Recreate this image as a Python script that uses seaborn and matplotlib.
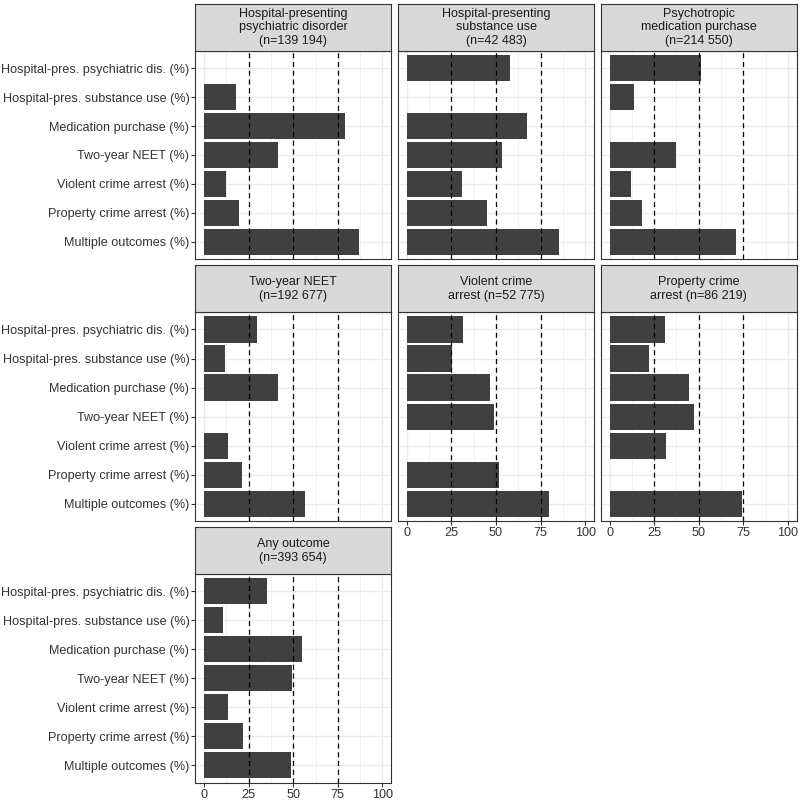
import numpy as np
import pandas as pd
import matplotlib
matplotlib.use("Agg")
import matplotlib.pyplot as plt
import seaborn as sns

outcomes = [
    "Hospital-pres. psychiatric dis. (%)",
    "Hospital-pres. substance use (%)",
    "Medication purchase (%)",
    "Two-year NEET (%)",
    "Violent crime arrest (%)",
    "Property crime arrest (%)",
    "Multiple outcomes (%)",
]

panels = [
    "Hospital-presenting\npsychiatric disorder\n(n=139 194)",
    "Hospital-presenting\nsubstance use\n(n=42 483)",
    "Psychotropic\nmedication purchase\n(n=214 550)",
    "Two-year NEET\n(n=192 677)",
    "Violent crime\narrest (n=52 775)",
    "Property crime\narrest (n=86 219)",
    "Any outcome\n(n=393 654)",
]

psychiatric = [np.nan, 17.8, 79.0, 41.2, 12.0, 19.3, 87.1]
substance = [57.8, np.nan, 67.3, 53.1, 30.9, 44.8, 85.6]
medication = [51.4, 13.5, np.nan, 37.3, 11.8, 18.2, 71.0]
neet = [29.7, 11.6, 41.6, np.nan, 13.3, 21.2, 56.7]
violent = [31.6, 25.2, 46.7, 48.8, np.nan, 51.8, 79.5]
prop = [31.0, 22.2, 44.6, 47.3, 31.8, np.nan, 74.4]
anyout = [35.3, 10.6, 54.7, 49.1, 13.4, 21.8, 48.9]

series = [psychiatric, substance, medication, neet, violent, prop, anyout]
ref_lines = [25, 50, 75]
x_ticks = [0, 25, 50, 75, 100]

rows = []
for p, vals in zip(panels, series):
    for o, v in zip(outcomes, vals):
        rows.append({"panel": p, "outcome": o, "value": v})
df = pd.DataFrame(rows)

sns.set_theme(style="white")
plt.rcParams["font.family"] = ["Liberation Sans", "DejaVu Sans"]

W = H = 800
fig = plt.figure(figsize=(8, 8), dpi=100)

col_left = [195.3, 398.0, 600.7]
col_w = 196.0
panel_rows = [(50.7, 259.3), (312.0, 521.3), (574.0, 782.7)]
strip_h = 46.7

txt_col = "#333333"
border_col = "#333333"
grid_col = "#ebebeb"
fs = 9.1
strip_fs = 9.0

for i, p in enumerate(panels):
    r, c = divmod(i, 3)
    top, bot = panel_rows[r]
    left = col_left[c]
    ax = fig.add_axes([left / W, 1 - bot / H, col_w / W, (bot - top) / H])
    sub = df[df["panel"] == p].dropna()
    sns.barplot(data=sub, x="value", y="outcome", order=outcomes, orient="h",
                color="#404040", saturation=1, width=0.9, ax=ax, errorbar=None,
                zorder=3)
    for patch in ax.patches:
        patch.set_edgecolor("none")
    ax.set_xlim(-5, 105)
    ax.set_ylim(len(outcomes) - 1 + 0.6, -0.6)
    for m in np.arange(12.5, 100, 25):
        ax.axvline(m, color=grid_col, lw=0.5, zorder=0)
    for m in x_ticks:
        ax.axvline(m, color=grid_col, lw=1.0, zorder=0)
    for k in range(len(outcomes)):
        ax.axhline(k, color=grid_col, lw=1.0, zorder=0)
    for v in ref_lines:
        ax.axvline(v, color="black", lw=0.9, ls=(0, (4, 3)), zorder=4)
    ax.set_xlabel("")
    ax.set_ylabel("")
    ax.set_xticks(x_ticks)
    for s in ax.spines.values():
        s.set_edgecolor(border_col)
        s.set_linewidth(0.8)
        s.set_zorder(5)
    show_x = (r == 2) or (r == 1 and c > 0)
    show_y = c == 0
    ax.tick_params(axis="both", which="major", length=3, width=0.8,
                   color=border_col, labelcolor=txt_col, labelsize=fs, pad=1.2,
                   bottom=show_x, left=show_y, labelbottom=show_x, labelleft=show_y)
    if not show_x:
        ax.set_xticklabels([])
    sax = fig.add_axes([left / W, 1 - top / H, col_w / W, strip_h / H])
    sax.set_xticks([])
    sax.set_yticks([])
    sax.set_facecolor("#d9d9d9")
    for s in sax.spines.values():
        s.set_edgecolor(border_col)
        s.set_linewidth(0.8)
    sax.text(0.5, 0.5, p, ha="center", va="center", fontsize=strip_fs,
             color="#1a1a1a", linespacing=1.2, transform=sax.transAxes)

fig.savefig("out.png", dpi=100, facecolor="white")
